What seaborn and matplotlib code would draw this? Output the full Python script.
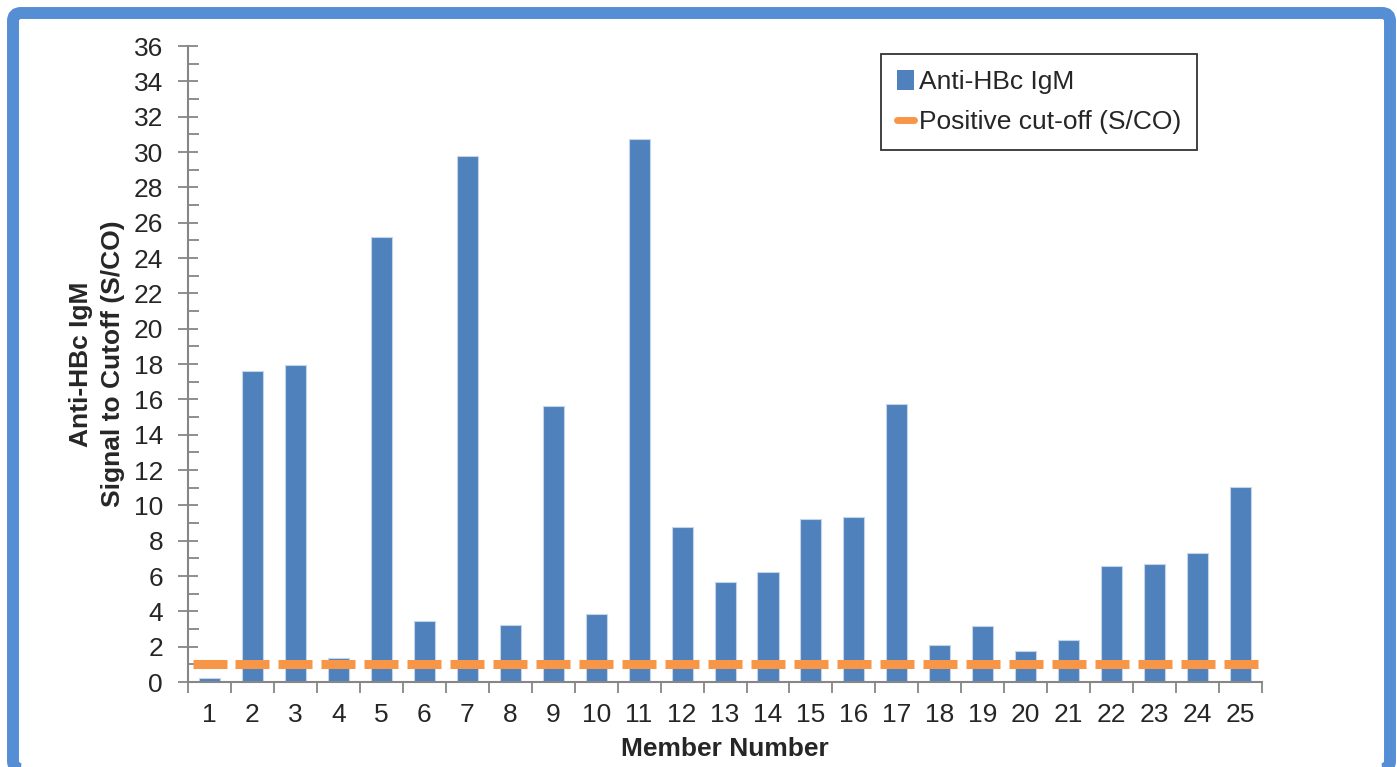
import seaborn as sns
import matplotlib.pyplot as plt
import pandas as pd
import numpy as np
from matplotlib.patches import FancyBboxPatch, Patch
from matplotlib.lines import Line2D
from matplotlib.ticker import MultipleLocator, FixedLocator

sns.set_theme(style="white")
plt.rcParams['font.family'] = ['Liberation Sans', 'DejaVu Sans']

members = [str(i) for i in range(1, 26)]
igm = [0.25, 17.6, 17.95, 1.35, 25.2, 3.45, 29.75, 3.2, 15.6, 3.85,
       30.75, 8.75, 5.65, 6.2, 9.25, 9.35, 15.75, 2.1, 3.15, 1.75,
       2.4, 6.55, 6.7, 7.3, 11.05]
cutoff = [1.0] * 25

df = pd.DataFrame({"member": members, "igm": igm, "cutoff": cutoff})

blue = "#4F81BD"
orange = "#F79646"
grey = "#868686"
fs = 19

fig = plt.figure(figsize=(13.97, 7.67), dpi=100)
ax = fig.add_axes([0.1346, 0.1108, 0.7688, 0.8292])

sns.barplot(data=df, x="member", y="igm", color=blue, saturation=1,
            width=0.49, edgecolor="#c6d4e8", linewidth=0.8, ax=ax)
# cut-off drawn as one dash per member
ax.plot(np.arange(len(members)), df["cutoff"], linestyle="none", marker="_",
        markersize=24.5, markeredgewidth=6.5, color=orange, zorder=3)

ax.set_xlim(-0.5, 24.5)
ax.set_ylim(0, 36)
ax.yaxis.set_major_locator(MultipleLocator(2))
ax.yaxis.set_minor_locator(MultipleLocator(1))
ax.tick_params(axis="y", which="major", direction="inout", length=14, width=1.3,
               color=grey, labelsize=fs, pad=11, left=True)
ax.tick_params(axis="y", which="minor", direction="in", length=8, width=1.3,
               color=grey, left=True)
ax.xaxis.set_minor_locator(FixedLocator(np.arange(-0.5, 25, 1)))
ax.tick_params(axis="x", which="major", length=0, labelsize=fs, pad=15)
ax.tick_params(axis="x", which="minor", direction="out", length=8, width=1.3,
               color=grey, bottom=True)

for side in ["top", "right"]:
    ax.spines[side].set_visible(False)
for side in ["left", "bottom"]:
    ax.spines[side].set_color(grey)
    ax.spines[side].set_linewidth(1.5)

ax.set_xlabel("Member Number", fontsize=fs, fontweight="bold", labelpad=7)
ax.set_ylabel("Anti-HBc IgM\nSignal to Cutoff (S/CO)", fontsize=fs,
              fontweight="bold", labelpad=6, linespacing=1.45)

handles = [Patch(facecolor=blue, edgecolor="none"),
           Line2D([], [], color=orange, linewidth=5)]
leg = ax.legend(handles, ["Anti-HBc IgM", "Positive cut-off (S/CO)"],
                loc="upper left", bbox_to_anchor=(0.645, 0.987), borderaxespad=0,
                fontsize=fs, frameon=True, fancybox=False, handlelength=0.65,
                handleheight=0.75, handletextpad=0.2, labelspacing=0.6,
                borderpad=0.6)
leg.get_frame().set_edgecolor("black")
leg.get_frame().set_linewidth(1.3)

# blue rounded frame around the chart
frame = FancyBboxPatch((13, -2), 1377, 756, boxstyle="round,pad=0,rounding_size=8",
                       transform=None, fill=False, edgecolor="#558ED5",
                       linewidth=8.6)
fig.patches.append(frame)

fig.savefig("out.png", dpi=100)
